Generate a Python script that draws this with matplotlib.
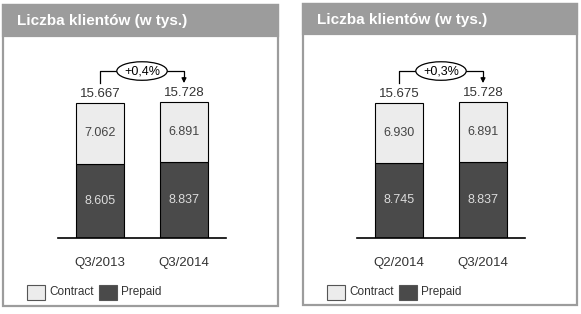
import matplotlib
matplotlib.use("Agg")
import matplotlib.pyplot as plt
from matplotlib.patches import Rectangle, Ellipse

plt.rcParams['font.family'] = ['Liberation Sans', 'DejaVu Sans']

# data (w tys.)
title = 'Liczba klientów (w tys.)'
left_periods = ['Q3/2013', 'Q3/2014']
left_prepaid = [8605, 8837]
left_contract = [7062, 6891]
left_change = '+0,4%'

right_periods = ['Q2/2014', 'Q3/2014']
right_prepaid = [8745, 8837]
right_contract = [6930, 6891]
right_change = '+0,3%'

C_LIGHT = '#ececec'
C_DARK = '#4a4a4a'
C_FRAME = '#9c9c9c'

W, H = 581, 314
fig = plt.figure(figsize=(W / 100, H / 100), dpi=100)


def fmt(v):
    return f'{v:,}'.replace(',', '.')


def panel(px0, py0, px1, py1, header_h, ax_x0, ax_x1, periods, prepaid, contract, change):
    # frame + gray header (pixel coords -> figure fraction)
    fig.patches.append(Rectangle((px0 / W, 1 - py1 / H), (px1 - px0) / W, (py1 - py0) / H,
                                 transform=fig.transFigure, facecolor='white',
                                 edgecolor=C_FRAME, lw=1.6, zorder=0))
    fig.patches.append(Rectangle((px0 / W, 1 - (py0 + header_h) / H), (px1 - px0) / W, header_h / H,
                                 transform=fig.transFigure, facecolor=C_FRAME,
                                 edgecolor=C_FRAME, lw=1.6, zorder=1))
    fig.text((px0 + 14) / W, 1 - (py0 + header_h / 2 + 1) / H, title, color='white',
             fontsize=11, fontweight='bold', va='center', ha='left', zorder=2)

    ax = fig.add_axes([ax_x0 / W, 1 - 238 / H, (ax_x1 - ax_x0) / W, 178 / H])
    ax.set_zorder(3)
    ax.patch.set_visible(False)
    x = [0, 1]
    totals = [p + c for p, c in zip(prepaid, contract)]
    ax.bar(x, prepaid, width=0.56, color=C_DARK, edgecolor='black', lw=0.8)
    ax.bar(x, contract, bottom=prepaid, width=0.56, color=C_LIGHT, edgecolor='black', lw=0.8)
    for i in x:
        ax.text(i, prepaid[i] / 2, fmt(prepaid[i]), ha='center', va='center',
                color='#dcdcdc', fontsize=9)
        ax.text(i, prepaid[i] + contract[i] / 2, fmt(contract[i]), ha='center', va='center',
                color='#444444', fontsize=9)
        ax.text(i, totals[i] + 350, fmt(totals[i]), ha='center', va='bottom',
                color='#333333', fontsize=9.5)

    # bracket with change
    top = max(totals) + 3650
    ax.plot([0, 0, 1, 1], [totals[0] + 2350, top, top, totals[1] + 2800], color='black', lw=0.9)
    ax.annotate('', xy=(1, totals[1] + 2250), xytext=(1, totals[1] + 2900),
                arrowprops=dict(arrowstyle='-|>', color='black', lw=0.9,
                                mutation_scale=7, shrinkA=0, shrinkB=0))
    ax.add_patch(Ellipse((0.5, top), 0.6, 2150, facecolor='white', edgecolor='black', lw=0.9,
                         zorder=4))
    ax.text(0.5, top, change, ha='center', va='center', fontsize=9, color='black', zorder=5)

    ax.set_xlim(-0.5, 1.5)
    ax.set_ylim(0, 20657)
    for s in ['top', 'left', 'right']:
        ax.spines[s].set_visible(False)
    ax.spines['bottom'].set_linewidth(1.2)
    ax.set_yticks([])
    ax.set_xticks(x)
    ax.set_xticklabels(periods, fontsize=9.5, color='#333333')
    ax.tick_params(axis='x', length=0, pad=14)

    # legend
    ly = 1 - 292 / H
    lx = px0 + 24
    for i, (name, col) in enumerate([('Contract', C_LIGHT), ('Prepaid', C_DARK)]):
        bx = lx + i * 72
        fig.patches.append(Rectangle((bx / W, ly - 7.5 / H), 18 / W, 15 / H,
                                     transform=fig.transFigure, facecolor=col,
                                     edgecolor='#555555', lw=0.8, zorder=3))
        fig.text((bx + 22) / W, ly, name, fontsize=8.5, color='#333333', va='center', ha='left')


panel(3, 5, 278, 306, 31, 58, 226, left_periods, left_prepaid, left_contract, left_change)
panel(303, 4, 577, 305, 30, 357, 525, right_periods, right_prepaid, right_contract, right_change)

fig.savefig('out.png', dpi=100)
